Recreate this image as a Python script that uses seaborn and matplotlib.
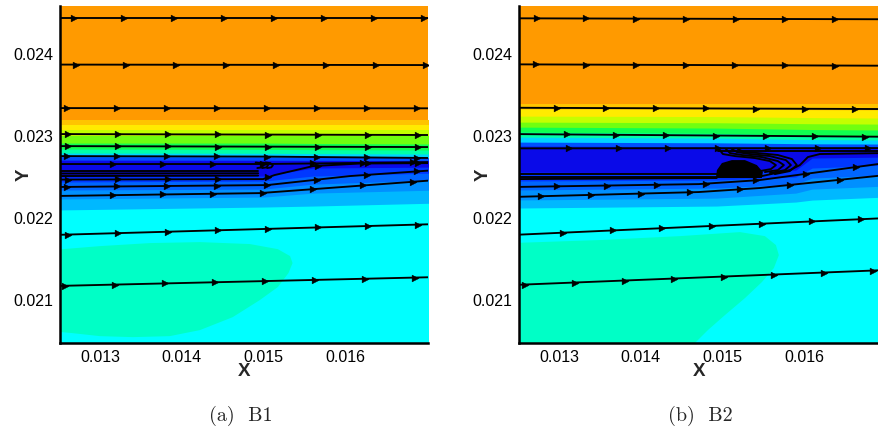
import numpy as np
import pandas as pd
import matplotlib
matplotlib.use("Agg")
import matplotlib.pyplot as plt
import seaborn as sns
from matplotlib.ticker import MultipleLocator, FixedLocator, FormatStrFormatter

# ---------------- data ----------------
X_MAJOR = [0.013, 0.014, 0.015, 0.016]
Y_MAJOR = [0.021, 0.022, 0.023, 0.024]
Y_LIM = (0.02048, 0.02459)
LEFT_XLIM = (0.012512, 0.017003)
RIGHT_XLIM = (0.012506, 0.01692)
CAPTIONS = ["(a)  B1", "(b)  B2"]

# colour bands from top (high value) to bottom
BAND_COLORS = ["#FF9A00", "#FFC400", "#FFEB00", "#C4FF00", "#70FF10", "#10FF50",
               "#00FFA8", "#00D4FF", "#0050FF", "#0A0AE8", "#0038FF", "#0066FF",
               "#0090FF", "#00B8FF", "#00FFFF"]
BLOB_COLOR = "#00FFC6"

# left panel (B1): band boundaries at x stations
LEFT_STATIONS = [0.0124, 0.0150, 0.0156, 0.0171]
LEFT_BOUNDS = [
    [0.023198, 0.023198, 0.023198, 0.023198],
    [0.023137, 0.023137, 0.023137, 0.023137],
    [0.023076, 0.023076, 0.023076, 0.023076],
    [0.023003, 0.023003, 0.023003, 0.023003],
    [0.022917, 0.022917, 0.022912, 0.022905],
    [0.022844, 0.022840, 0.022836, 0.022832],
    [0.022795, 0.022792, 0.022788, 0.022783],
    [0.022752, 0.022749, 0.022745, 0.022740],
    [0.022709, 0.022707, 0.022705, 0.022703],
    [0.022502, 0.022514, 0.022612, 0.022624],
    [0.022441, 0.022453, 0.022514, 0.022551],
    [0.022343, 0.022355, 0.022416, 0.022465],
    [0.022233, 0.022258, 0.022306, 0.022343],
    [0.022099, 0.022136, 0.022148, 0.022184],
]
LEFT_BLOB_X = [0.0124, 0.0130, 0.01361, 0.01422, 0.01483, 0.01517, 0.01532, 0.01535,
               0.01530, 0.01517, 0.01495, 0.01462, 0.01422, 0.01385, 0.01340, 0.0130,
               0.01266, 0.0124]
LEFT_BLOB_Y = [0.021610, 0.021659, 0.021696, 0.021708, 0.021684, 0.021622, 0.021537,
               0.021452, 0.021330, 0.021159, 0.021000, 0.020792, 0.020634, 0.020560,
               0.020548, 0.020560, 0.020597, 0.020622]

# streamlines: (x, y, first arrow x)
LEFT_LINES = [
    ([0.0124, 0.0171], [0.024440, 0.024440], 0.012683),
    ([0.0124, 0.0171], [0.023875, 0.023869], 0.012707),
    ([0.0124, 0.0171], [0.023344, 0.023341], 0.012598),
    ([0.0124, 0.0171], [0.023027, 0.023015], 0.012610),
    ([0.0124, 0.0171], [0.022880, 0.022868], 0.012610),
    ([0.0124, 0.0150, 0.0171], [0.022758, 0.022752, 0.022734], 0.012598),
    ([0.0124, 0.0150, 0.0171], [0.022661, 0.022661, 0.022685], 0.013159),
    ([0.0124, 0.01499, 0.01513, 0.01560, 0.01617, 0.0171],
     [0.022471, 0.022477, 0.022526, 0.022636, 0.022667, 0.022673], 0.012610),
    ([0.0124, 0.01504, 0.01605, 0.0171], [0.022380, 0.022404, 0.022514, 0.022587], 0.012598),
    ([0.0124, 0.01495, 0.0171], [0.022270, 0.022306, 0.022465], 0.013159),
    ([0.0124, 0.0171], [0.021794, 0.021928], 0.012610),
    ([0.0124, 0.0171], [0.021171, 0.021281], 0.012573),
]
LEFT_WALL = [
    ([0.0124, 0.01493], [0.022575, 0.022575]),
    ([0.0124, 0.01493], [0.022545, 0.022548]),
    ([0.0124, 0.01493], [0.022514, 0.022520]),
]
LEFT_CURLS = [
    ([0.01490, 0.01496, 0.01499, 0.01497, 0.01492], [0.022680, 0.022672, 0.022645, 0.022620, 0.022612]),
    ([0.01496, 0.01502, 0.01505, 0.01503, 0.01498], [0.022680, 0.022672, 0.022645, 0.022620, 0.022612]),
    ([0.01502, 0.01508, 0.01511, 0.01509, 0.01504], [0.022680, 0.022672, 0.022645, 0.022620, 0.022612]),
]

# right panel (B2)
RIGHT_STATIONS = [0.0124, 0.01493, 0.0159, 0.0161, 0.0170]
RIGHT_BOUNDS = [
    [0.023393, 0.023393, 0.023393, 0.023393, 0.023393],
    [0.023332, 0.023330, 0.023325, 0.023323, 0.023320],
    [0.023246, 0.023240, 0.023230, 0.023228, 0.023222],
    [0.023173, 0.023165, 0.023155, 0.023153, 0.023148],
    [0.023112, 0.023100, 0.023085, 0.023082, 0.023076],
    [0.023051, 0.023035, 0.023015, 0.023010, 0.023003],
    [0.022990, 0.022978, 0.022962, 0.022960, 0.022954],
    [0.022929, 0.022920, 0.022910, 0.022908, 0.022905],
    [0.022880, 0.022872, 0.022862, 0.022860, 0.022856],
    [0.022563, 0.022551, 0.022587, 0.022734, 0.022746],
    [0.022453, 0.022465, 0.022502, 0.022612, 0.022648],
    [0.022343, 0.022368, 0.022416, 0.022490, 0.022526],
    [0.022221, 0.022245, 0.022306, 0.022355, 0.022392],
    [0.022123, 0.022148, 0.022197, 0.022221, 0.022258],
]
RIGHT_BLOB_X = [0.0124, 0.013499, 0.014479, 0.015215, 0.015521, 0.015656, 0.015692,
                0.015631, 0.015484, 0.015276, 0.015031, 0.014822, 0.014638, 0.0124]
RIGHT_BLOB_Y = [0.021696, 0.021733, 0.021781, 0.021830, 0.021781, 0.021672, 0.021549,
                0.021391, 0.021220, 0.021024, 0.020817, 0.020634, 0.020451, 0.020451]
RIGHT_LINES = [
    ([0.0124, 0.0170], [0.024440, 0.024428], 0.012723),
    ([0.0124, 0.0170], [0.023878, 0.023861], 0.012720),
    ([0.0124, 0.0170], [0.023348, 0.023332], 0.012968),
    ([0.0124, 0.0170], [0.023027, 0.022994], 0.013091),
    ([0.0124, 0.0170], [0.022852, 0.022856], 0.013119),
    ([0.0124, 0.014710, 0.015457, 0.0170], [0.022380, 0.022416, 0.022465, 0.022673], 0.012972),
    ([0.0124, 0.014710, 0.015457, 0.0170], [0.022258, 0.022319, 0.022368, 0.022526], 0.012776),
    ([0.0124, 0.0170], [0.021794, 0.022001], 0.013045),
    ([0.0124, 0.0170], [0.021183, 0.021367], 0.012580),
    ([0.015484, 0.015827, 0.015950, 0.016048, 0.016195, 0.0170],
     [0.022514, 0.022587, 0.022648, 0.022746, 0.022783, 0.022795], None),
    ([0.01495, 0.0170], [0.022819, 0.022819], None),
]
RIGHT_WALL = [
    ([0.0124, 0.01493], [0.022538, 0.022538]),
    ([0.0124, 0.01493], [0.022508, 0.022508]),
    ([0.0124, 0.01493], [0.022477, 0.022490]),
]
RIGHT_CURLS = [
    ([0.014957, 0.015006, 0.015153, 0.015398, 0.015582, 0.015656, 0.015594, 0.015460],
     [0.022844, 0.022783, 0.022758, 0.022734, 0.022697, 0.022648, 0.022599, 0.022575]),
    ([0.015043, 0.015092, 0.015239, 0.015484, 0.015680, 0.015754, 0.015680, 0.015521],
     [0.022844, 0.022795, 0.022771, 0.022746, 0.022697, 0.022648, 0.022587, 0.022563]),
    ([0.015116, 0.015178, 0.015337, 0.015582, 0.015778, 0.015840, 0.015766, 0.015582],
     [0.022844, 0.022807, 0.022783, 0.022758, 0.022709, 0.022648, 0.022587, 0.022551]),
    ([0.015190, 0.015264, 0.015435, 0.015680, 0.015852, 0.015913, 0.015827, 0.015643],
     [0.022844, 0.022807, 0.022795, 0.022771, 0.022722, 0.022648, 0.022575, 0.022538]),
]
RIGHT_VORTEX_X = [0.014920, 0.014933, 0.014994, 0.015116, 0.015276, 0.015423, 0.015496, 0.015484]
RIGHT_VORTEX_Y = [0.022490, 0.022587, 0.022673, 0.022709, 0.022709, 0.022648, 0.022563, 0.022490]

ARROW_STEP = 0.00061

# ---------------- drawing ----------------
sns.set_theme(style="white")
plt.rcParams["font.family"] = ["Liberation Sans", "DejaVu Sans"]

fig = plt.figure(figsize=(8.79, 4.32), dpi=100)
ax_bottom = (432 - 342.7) / 432
ax_h = 336.7 / 432
axL = fig.add_axes([60 / 879, ax_bottom, 368 / 879, ax_h])
axR = fig.add_axes([519 / 879, ax_bottom, 360 / 879, ax_h])


def draw_panel(ax, xlim, stations, bounds, blob_x, blob_y, lines, wall, curls,
               vortex=None):
    lo, hi = Y_LIM
    ax.fill_between(stations, hi + 0.001, lo - 0.001, color=BAND_COLORS[0], lw=0)
    for k, b in enumerate(bounds):
        ax.fill_between(stations, b, lo - 0.001, color=BAND_COLORS[k + 1], lw=0)
    ax.fill(blob_x, blob_y, color=BLOB_COLOR, lw=0)

    rows = []
    uid = 0
    for xs, ys, _ in lines:
        for x, y in zip(xs, ys):
            rows.append((uid, x, y))
        uid += 1
    for xs, ys in wall + curls:
        for x, y in zip(xs, ys):
            rows.append((uid, x, y))
        uid += 1
    df = pd.DataFrame(rows, columns=["line", "x", "y"])
    sns.lineplot(data=df, x="x", y="y", units="line", estimator=None, sort=False,
                 color="black", linewidth=1.35, ax=ax, legend=False)
    if vortex is not None:
        ax.fill(vortex[0], vortex[1], color="black", lw=0, zorder=3)

    ax_pts, ay_pts = [], []
    for xs, ys, x0 in lines:
        if x0 is None:
            continue
        xa = np.arange(x0, xlim[1], ARROW_STEP)
        ax_pts.extend(xa)
        ay_pts.extend(np.interp(xa, xs, ys))
    sns.scatterplot(x=ax_pts, y=ay_pts, marker=">", s=24, color="black",
                    edgecolor="black", linewidth=0.3, ax=ax, zorder=4, legend=False)

    ax.set_xlim(*xlim)
    ax.set_ylim(*Y_LIM)
    ax.xaxis.set_major_locator(FixedLocator(X_MAJOR))
    ax.yaxis.set_major_locator(FixedLocator(Y_MAJOR))
    ax.xaxis.set_minor_locator(MultipleLocator(0.0002))
    ax.yaxis.set_minor_locator(MultipleLocator(0.0002))
    ax.xaxis.set_major_formatter(FormatStrFormatter("%.3f"))
    ax.yaxis.set_major_formatter(FormatStrFormatter("%.3f"))
    ax.tick_params(which="major", direction="in", length=6, width=2.2,
                   labelsize=11.5, pad=5, colors="black", bottom=True, left=True)
    ax.tick_params(which="minor", direction="in", length=3.8, width=1.1,
                   bottom=True, left=True, colors="black")
    for s in ["top", "right"]:
        ax.spines[s].set_visible(False)
    for s in ["left", "bottom"]:
        ax.spines[s].set_visible(True)
        ax.spines[s].set_linewidth(1.8)
        ax.spines[s].set_color("black")
        ax.spines[s].set_zorder(6)
    ax.set_xlabel("X", fontweight="bold", fontsize=13.5, labelpad=0)
    ax.set_ylabel("Y", fontweight="bold", fontsize=13.5)
    ax.xaxis.set_label_coords(0.5, -0.060)
    w = ax.get_position().width * 879
    ax.yaxis.set_label_coords(-27.0 / w, 0.5)
    ax.grid(False)


draw_panel(axL, LEFT_XLIM, LEFT_STATIONS, LEFT_BOUNDS, LEFT_BLOB_X, LEFT_BLOB_Y,
           LEFT_LINES, LEFT_WALL, LEFT_CURLS)
draw_panel(axR, RIGHT_XLIM, RIGHT_STATIONS, RIGHT_BOUNDS, RIGHT_BLOB_X, RIGHT_BLOB_Y,
           RIGHT_LINES, RIGHT_WALL, RIGHT_CURLS,
           vortex=(RIGHT_VORTEX_X, RIGHT_VORTEX_Y))

fig.text(241 / 879, 1 - 416 / 432, CAPTIONS[0], ha="center", va="center",
         family=["cmr10", "DejaVu Serif"], fontsize=14.5)
fig.text(700 / 879, 1 - 416 / 432, CAPTIONS[1], ha="center", va="center",
         family=["cmr10", "DejaVu Serif"], fontsize=14.5)

fig.savefig("out.png", dpi=100)
